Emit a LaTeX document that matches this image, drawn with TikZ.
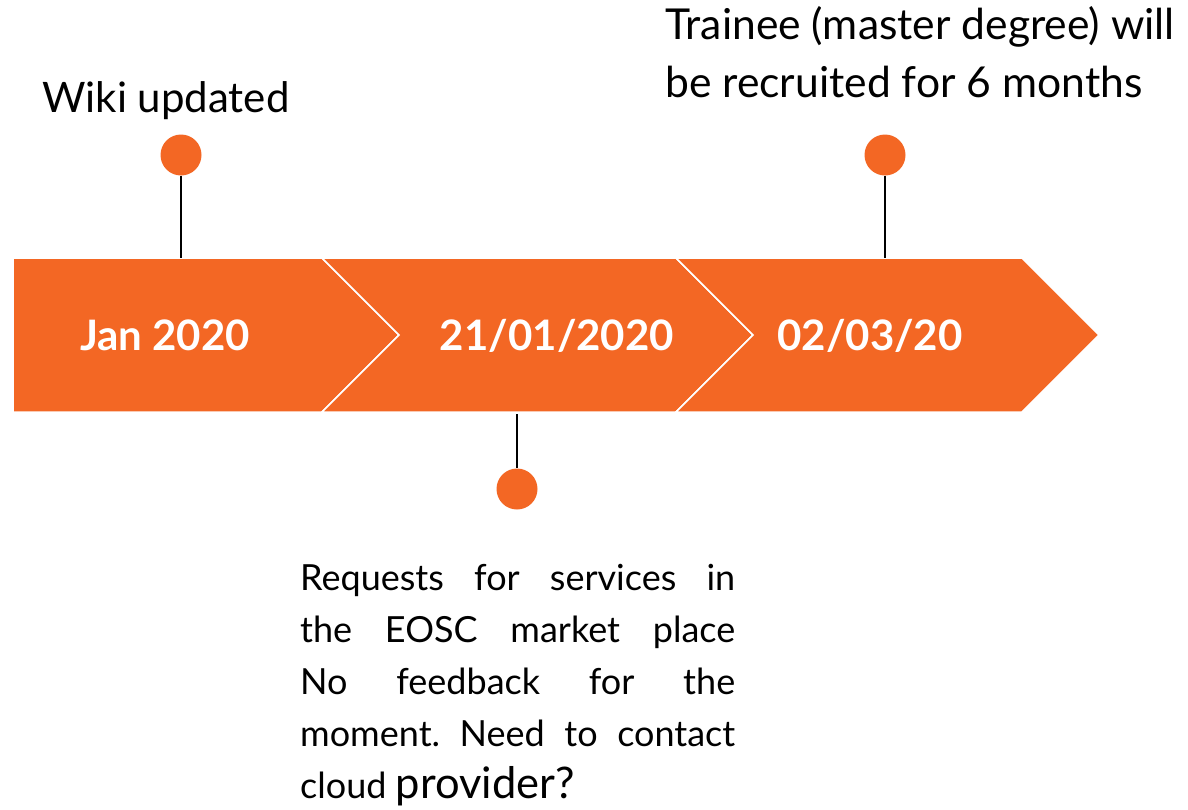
\documentclass[tikz,border=0pt]{standalone}
\usepackage{fontspec}
\setmainfont{Lato}
\definecolor{tlorange}{RGB}{243,103,36}
\frenchspacing
\begin{document}
\begin{tikzpicture}[x=1pt,y=1pt,
  chev/.style={fill=tlorange,draw=white,line width=1.5pt,line join=miter},
  dot/.style={circle,fill=tlorange,inner sep=0pt,minimum size=41pt},
  stem/.style={draw=black,line width=1.3pt},
  datelbl/.style={text=white,font=\fontsize{42}{48}\selectfont\bfseries,anchor=base,inner sep=0pt},
  note/.style={font=\fontsize{42}{58}\selectfont,anchor=base west,inner sep=0pt,align=left}]
\useasboundingbox (0,0) rectangle (1188,-809);
% chevrons
\path[chev] (13,-258) -- (322,-258) -- (399,-335) -- (322,-412) -- (13,-412) -- cycle;
\path[chev] (322,-258) -- (676,-258) -- (753,-335) -- (676,-412) -- (322,-412) -- (399,-335) -- cycle;
\path[chev] (676,-258) -- (1022,-258) -- (1099,-335) -- (1022,-412) -- (676,-412) -- (753,-335) -- cycle;
% date labels
\node[datelbl] (d1) at (165,-350) {Jan 2020};
\node[datelbl] (d2) at (557,-350) {21/01/2020};
\node[datelbl] (d3) at (870,-350) {02/03/20};
% band anchor coordinates
\coordinate (b1) at (181,-258);
\coordinate (b2) at (517,-414);
\coordinate (b3) at (885,-258);
% dots
\node[dot] (p1) at (181,-155) {};
\node[dot] (p2) at (517,-489) {};
\node[dot] (p3) at (885,-155) {};
\draw[stem] (p1.south) -- (b1);
\draw[stem] (b2) -- (p2.north);
\draw[stem] (p3.south) -- (b3);
% notes
\node[note] (n1) at (42,-112) {Wiki updated};
\node[note,font=\fontsize{42.6}{58}\selectfont] (n3) at (665,-97) {Trainee (master degree) will\\be recruited for 6 months};
\node[anchor=base west,inner sep=0pt] (n2) at (300,-590) {\parbox[t]{435pt}{\fontsize{36}{52}\selectfont Requests for services in\linebreak the EOSC market place\linebreak No feedback for the\linebreak moment. Need to contact\linebreak cloud {\fontsize{43.5}{52}\selectfont provider?}}};
\end{tikzpicture}
\end{document}
